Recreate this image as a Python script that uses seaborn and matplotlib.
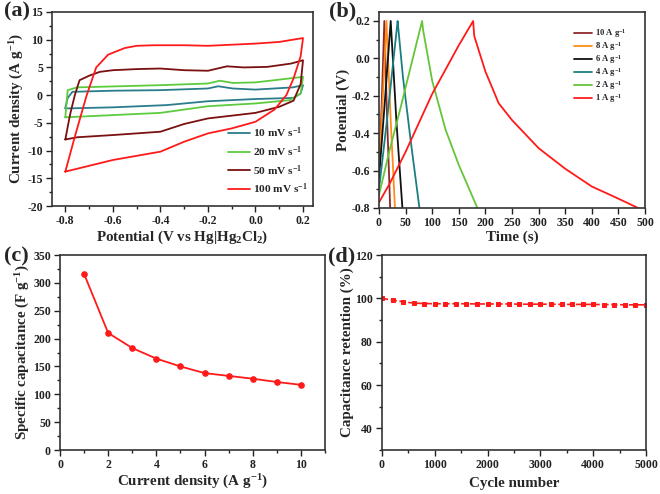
import numpy as np
import pandas as pd
import matplotlib
matplotlib.use("Agg")
import matplotlib.pyplot as plt
import seaborn as sns
from matplotlib.ticker import MultipleLocator

# ---------------- data ----------------
# (a) CV curves: forward branch then reverse branch (closed loop)
cv10_v = [-0.80, -0.79, -0.77, -0.60, -0.40, -0.20, -0.157, -0.095, 0.00, 0.157, 0.20,
          0.19, 0.16, 0.00, -0.20, -0.375, -0.60, -0.80]
cv10_i = [-2.3, -0.5, 0.6, 0.8, 0.9, 1.2, 1.6, 1.2, 1.0, 1.4, 1.8,
          0.3, -0.5, -0.7, -1.1, -1.8, -2.2, -2.4]
cv20_v = [-0.80, -0.79, -0.75, -0.40, -0.20, -0.15, -0.095, 0.00, 0.20,
          0.19, 0.145, 0.00, -0.20, -0.40, -0.60, -0.80]
cv20_i = [-4.0, 0.9, 1.4, 1.8, 2.1, 2.6, 2.2, 2.3, 3.3,
          0.3, -0.9, -1.5, -2.0, -3.2, -3.6, -4.0]
cv50_v = [-0.80, -0.78, -0.76, -0.74, -0.70, -0.655, -0.60, -0.50, -0.40, -0.30, -0.20,
          -0.12, -0.05, 0.05, 0.15, 0.20,
          0.19, 0.16, 0.10, 0.00, -0.20, -0.30, -0.40, -0.60, -0.75, -0.80]
cv50_i = [-8.0, -3.5, 0.0, 2.7, 3.5, 4.2, 4.5, 4.7, 4.8, 4.5, 4.4,
          5.2, 5.0, 5.1, 5.7, 6.3,
          2.0, -1.0, -2.1, -3.2, -4.2, -5.2, -6.6, -7.2, -7.6, -8.0]
cv100_v = [-0.80, -0.76, -0.71, -0.67, -0.62, -0.55, -0.50, -0.43, -0.30, -0.20, -0.10,
           0.00, 0.10, 0.20,
           0.19, 0.16, 0.13, 0.08, 0.00, -0.10, -0.20, -0.30, -0.40, -0.60, -0.80]
cv100_i = [-13.8, -7.5, 0.0, 5.0, 7.3, 8.5, 8.9, 9.0, 9.0, 8.9, 9.1,
           9.3, 9.6, 10.3,
           7.0, 3.0, 0.0, -2.6, -4.8, -6.0, -6.9, -8.4, -10.2, -11.7, -13.8]
cv_labels = ["10 mV s$^{-1}$", "20 mV s$^{-1}$", "50 mV s$^{-1}$", "100 mV s$^{-1}$"]

# (b) GCD curves
gcd10_t = [0, 5, 10, 15, 21]
gcd10_v = [-0.62, -0.25, 0.20, -0.30, -0.80]
gcd8_t = [0, 7, 14, 22, 30]
gcd8_v = [-0.60, -0.22, 0.20, -0.33, -0.80]
gcd6_t = [0, 11, 22, 33, 44]
gcd6_v = [-0.64, -0.23, 0.20, -0.35, -0.80]
gcd4_t = [0, 15, 35, 36, 45, 60, 76]
gcd4_v = [-0.70, -0.33, 0.20, 0.17, -0.10, -0.45, -0.80]
gcd2_t = [0, 20, 40, 60, 81, 83, 100, 125, 150, 185]
gcd2_v = [-0.73, -0.49, -0.27, -0.04, 0.20, 0.15, -0.12, -0.38, -0.57, -0.80]
gcd1_t = [0, 20, 50, 100, 150, 177, 179, 190, 200, 225, 250, 300, 350, 400, 450, 487]
gcd1_v = [-0.77, -0.67, -0.50, -0.19, 0.07, 0.20, 0.12, 0.02, -0.07, -0.24, -0.33,
          -0.48, -0.59, -0.685, -0.75, -0.80]
gcd_labels = ["10 A g$^{-1}$", "8 A g$^{-1}$", "6 A g$^{-1}$", "4 A g$^{-1}$",
              "2 A g$^{-1}$", "1 A g$^{-1}$"]

# (c) specific capacitance
current_density = [1, 2, 3, 4, 5, 6, 7, 8, 9, 10]
capacitance = [316, 210, 183, 164, 150, 138, 133, 128, 122, 117]

# (d) cycling stability
cycles = list(range(0, 5001, 200))
retention = [100.0, 99.2, 98.4, 97.8, 97.6, 97.5, 97.5, 97.5, 97.5, 97.4, 97.4, 97.4,
             97.4, 97.3, 97.3, 97.3, 97.3, 97.2, 97.2, 97.2, 97.2, 97.1, 97.1, 97.0,
             97.0, 97.0]

# ---------------- style ----------------
sns.set_theme(style="ticks")
plt.rcParams["font.family"] = ["Liberation Serif", "DejaVu Serif"]
plt.rcParams["font.weight"] = "bold"
plt.rcParams["axes.labelweight"] = "bold"
plt.rcParams["mathtext.fontset"] = "custom"
plt.rcParams["mathtext.rm"] = "Liberation Serif:bold"
plt.rcParams["mathtext.it"] = "Liberation Serif:bold"
plt.rcParams["mathtext.bf"] = "Liberation Serif:bold"
plt.rcParams["axes.unicode_minus"] = False

fig = plt.figure(figsize=(6.6, 4.94), dpi=100)
W, H = 660.0, 494.0
LABEL_FS = 10.8


def axes_px(l, t, r, b):
    return fig.add_axes([l / W, 1 - b / H, (r - l) / W, (b - t) / H])


def style_ax(ax):
    for s in ax.spines.values():
        s.set_linewidth(1.2)
        s.set_color("#333333")
    ax.tick_params(which="both", direction="out", top=False, right=False,
                   labelsize=8.5, width=1.0, colors="#222222", pad=2.5)
    ax.tick_params(which="major", length=4)
    ax.tick_params(which="minor", length=2)
    for lab in ax.get_xticklabels() + ax.get_yticklabels():
        lab.set_fontweight("bold")


# (a)
axa = axes_px(52, 12, 313, 206)
cv_cols = ["#2a7d8c", "#5ccc3e", "#7a1010", "#ff1a1a"]
for v, i, lab, c in zip([cv10_v, cv20_v, cv50_v, cv100_v], [cv10_i, cv20_i, cv50_i, cv100_i],
                        cv_labels, cv_cols):
    df = pd.DataFrame({"v": v, "i": i})
    sns.lineplot(data=df, x="v", y="i", sort=False, estimator=None, color=c, lw=1.3,
                 label=lab, ax=axa)
axa.set_xlim(-0.856, 0.242)
axa.set_ylim(-20, 15)
axa.xaxis.set_major_locator(MultipleLocator(0.2))
axa.xaxis.set_minor_locator(MultipleLocator(0.1))
axa.yaxis.set_major_locator(MultipleLocator(5))
axa.yaxis.set_minor_locator(MultipleLocator(2.5))
axa.xaxis.set_major_formatter(matplotlib.ticker.FormatStrFormatter("%.1f"))
axa.set_xlabel("Potential (V vs Hg|Hg$_2$Cl$_2$)", fontsize=LABEL_FS, labelpad=1)
axa.set_ylabel("Current density (A g$^{-1}$)", fontsize=LABEL_FS, labelpad=1)
leg = axa.legend(loc="lower right", frameon=False, fontsize=8.2, handlelength=1.9,
                 handletextpad=0.3, labelspacing=0.35, borderaxespad=0.3,
                 bbox_to_anchor=(1.012, 0.01))
for t in leg.get_texts():
    t.set_fontweight("bold")
style_ax(axa)

# (b)
axb = axes_px(379, 12, 645, 208)
gcd_cols = ["#8b2a2a", "#ff8c1a", "#111111", "#1a7f80", "#66c43a", "#ff1a1a"]
for t_, v_, lab, c in zip([gcd10_t, gcd8_t, gcd6_t, gcd4_t, gcd2_t, gcd1_t],
                          [gcd10_v, gcd8_v, gcd6_v, gcd4_v, gcd2_v, gcd1_v],
                          gcd_labels, gcd_cols):
    df = pd.DataFrame({"t": t_, "v": v_})
    sns.lineplot(data=df, x="t", y="v", sort=False, estimator=None, color=c, lw=1.3,
                 label=lab, ax=axb)
axb.set_xlim(0, 500)
axb.set_ylim(-0.8, 0.248)
axb.xaxis.set_major_locator(MultipleLocator(50))
axb.yaxis.set_major_locator(MultipleLocator(0.2))
axb.yaxis.set_minor_locator(MultipleLocator(0.1))
axb.yaxis.set_major_formatter(matplotlib.ticker.FormatStrFormatter("%.1f"))
axb.set_xlabel("Time (s)", fontsize=LABEL_FS, labelpad=1)
axb.set_ylabel("Potential (V)", fontsize=LABEL_FS, labelpad=1)
leg = axb.legend(loc="upper left", frameon=False, fontsize=6.2, handlelength=2.1,
                 handletextpad=0.4, labelspacing=0.0, borderaxespad=0.0,
                 bbox_to_anchor=(0.72, 0.94))
for t in leg.get_texts():
    t.set_fontweight("bold")
style_ax(axb)

# (c)
axc = axes_px(60, 255, 325, 450)
dfc = pd.DataFrame({"j": current_density, "c": capacitance})
sns.lineplot(data=dfc, x="j", y="c", color="#ff1a1a", lw=1.3, marker="o", markersize=4,
             markeredgecolor="#ff1a1a", ax=axc)
axc.set_xlim(0, 11)
axc.set_ylim(0, 350)
axc.xaxis.set_major_locator(MultipleLocator(2))
axc.xaxis.set_minor_locator(MultipleLocator(1))
axc.yaxis.set_major_locator(MultipleLocator(50))
axc.yaxis.set_minor_locator(MultipleLocator(25))
axc.set_xlabel("Current density (A g$^{-1}$)", fontsize=LABEL_FS, labelpad=1)
axc.set_ylabel("Specific capacitance (F g$^{-1}$)", fontsize=LABEL_FS, labelpad=1)
style_ax(axc)

# (d)
axd = axes_px(382, 255, 646, 450)
dfd = pd.DataFrame({"n": cycles, "r": retention})
sns.lineplot(data=dfd, x="n", y="r", color="#ff1a1a", lw=1.2, marker="s", markersize=3,
             markeredgecolor="#ff1a1a", linestyle="--", ax=axd)
axd.set_xlim(0, 5000)
axd.set_ylim(30, 120)
axd.xaxis.set_major_locator(MultipleLocator(1000))
axd.xaxis.set_minor_locator(MultipleLocator(500))
axd.yaxis.set_minor_locator(MultipleLocator(10))
axd.set_yticks([40, 60, 80, 100, 120])
axd.set_xlabel("Cycle number", fontsize=LABEL_FS, labelpad=4)
axd.set_ylabel("Capacitance retention (%)", fontsize=LABEL_FS, labelpad=1)
style_ax(axd)

# panel letters
for x, y, s in [(4, 1, "(a)"), (329, 1, "(b)"), (4, 246, "(c)"), (328, 246, "(d)")]:
    fig.text(x / W, 1 - y / H, s, fontsize=16, fontweight="bold", va="top", ha="left")

fig.savefig("out.png", dpi=100)
